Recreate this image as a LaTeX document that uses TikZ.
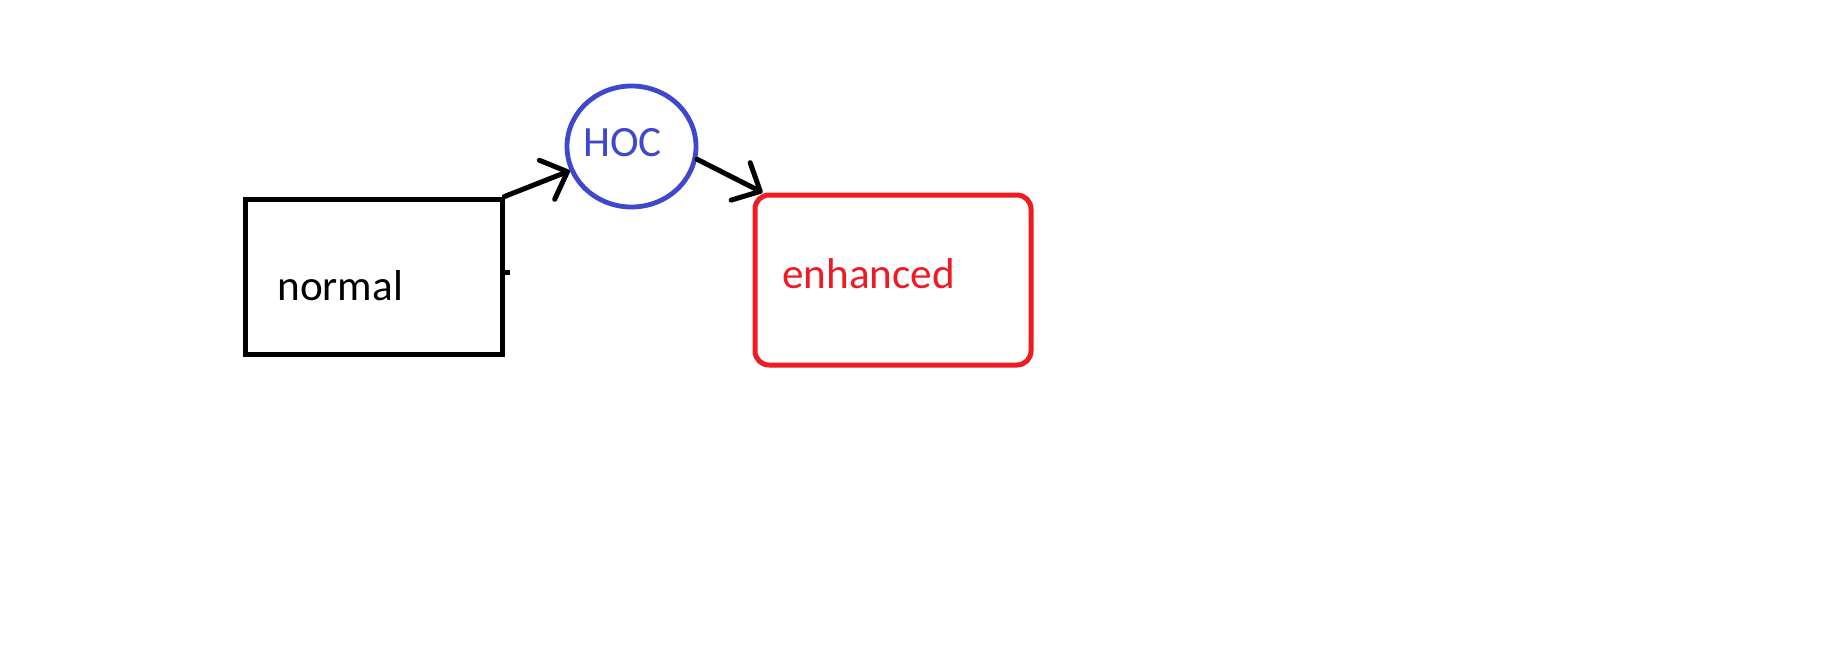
\documentclass[tikz,border=0pt]{standalone}
\usepackage{fontspec}
\setmainfont{Carlito}
\usetikzlibrary{arrows.meta,shapes.geometric}
\definecolor{paintblue}{HTML}{3F48CC}
\definecolor{paintred}{HTML}{ED1C24}
\tikzset{
    plain box/.style={
        draw=black,
        line width=2.5pt,
        minimum width=128.5pt,
        minimum height=77.5pt,
        inner sep=0pt
    },
    hoc ring/.style={
        ellipse,
        draw=paintblue,
        line width=2.4pt,
        minimum width=64.5pt,
        minimum height=60.5pt,
        inner sep=0pt
    },
    enhanced box/.style={
        draw=paintred,
        line width=2.5pt,
        rounded corners=7pt,
        minimum width=138pt,
        minimum height=85pt,
        inner sep=0pt
    },
    box text/.style={
        inner sep=0pt,
        anchor=base west,
        font=\fontsize{21.6pt}{26pt}\selectfont
    },
    hand arrow/.style={
        black,
        line width=2.5pt,
        line cap=round,
        -{Straight Barb[length=11pt,width=21pt,round]}
    }
}
\begin{document}
\begin{tikzpicture}[x=0.5pt,y=-0.5pt]
                \path[fill=white] (0,0) rectangle (1833,648);
                \useasboundingbox (0,0) rectangle (1833,648);
                \node[plain box] (normal) at (373.5,276.5) {};
                \node[hoc ring] (hoc) at (631.5,146.5) {};
                \node[enhanced box] (enhanced) at (893,280) {};
                \node[box text, text=black] (normal label) at (277,300) {normal};
                \node[box text, text=paintblue] (hoc label) at (583,156) {HOC};
                \node[box text, text=paintred] (enhanced label) at (782,288) {enhanced};
                \draw[hand arrow] (normal.north east) -- (hoc);
                \draw[hand arrow] (hoc.-11) -- ([xshift=5pt]enhanced.north west);
                \draw[black, line width=2.5pt] ([yshift=2.25pt]normal.east) -- ++(2.5pt,0);
            \end{tikzpicture}
\end{document}
